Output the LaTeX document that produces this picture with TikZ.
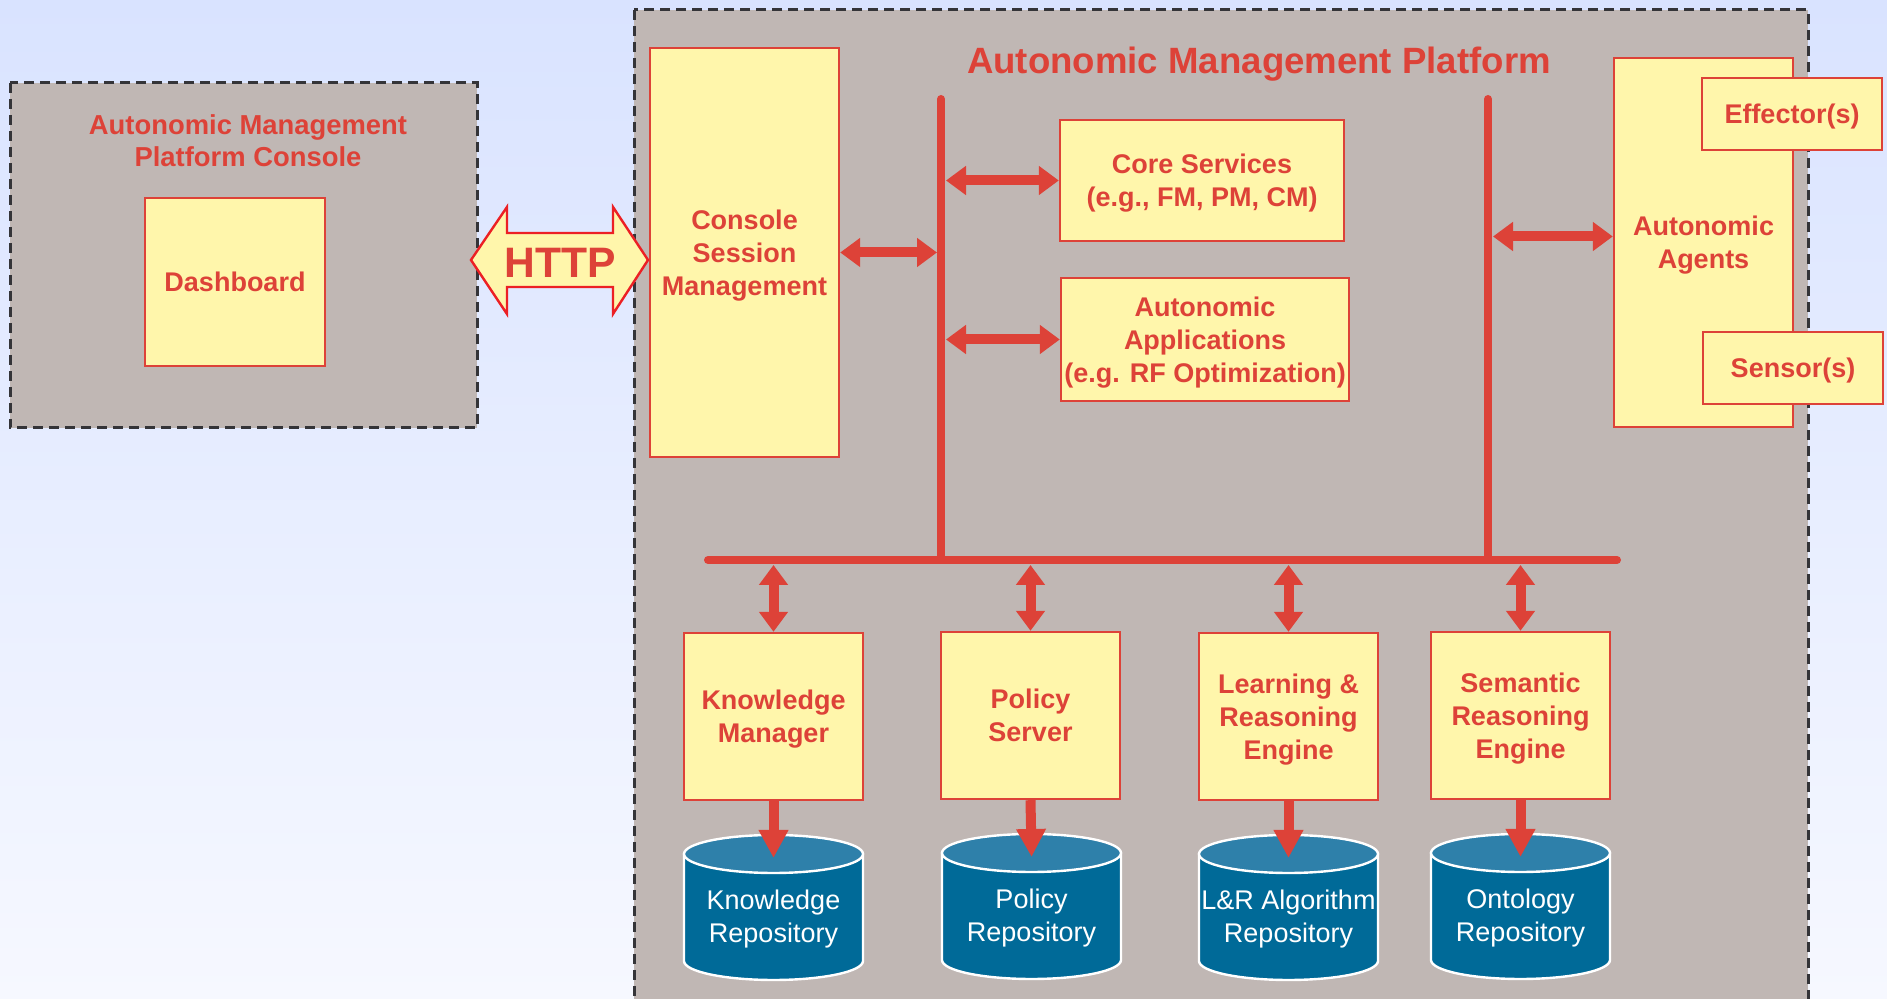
\documentclass[tikz,border=0pt]{standalone}
\usepackage{fontspec}
\setmainfont{Liberation Sans}
\usetikzlibrary{arrows.meta}
\definecolor{bgtop}{RGB}{217,227,255}
\definecolor{bgbot}{RGB}{246,248,255}
\definecolor{platgrey}{RGB}{192,183,180}
\definecolor{boxyellow}{RGB}{255,246,171}
\definecolor{boxred}{RGB}{221,66,56}
\definecolor{httpred}{RGB}{236,32,36}
\definecolor{dashgrey}{RGB}{52,52,56}
\definecolor{cylbody}{RGB}{0,106,152}
\definecolor{cyltop}{RGB}{46,128,170}
\begin{document}
\begin{tikzpicture}[x=0.5pt,y=-0.5pt,
    panel/.style={draw=dashgrey,fill=platgrey,line width=1.5pt,dash pattern=on 5pt off 3pt},
    comp/.style={draw=boxred,fill=boxyellow,line width=1.2pt,text=boxred,align=center,inner sep=0pt,
      text depth=-4.5pt,font=\bfseries\fontsize{13.5}{16.5}\selectfont},
    cylside/.style={draw=white,fill=cylbody,line width=1.2pt},
    cylend/.style={draw=white,fill=cyltop,line width=1.2pt},
    repotext/.style={text=white,align=center,font=\fontsize{13.5}{16.5}\selectfont},
    title/.style={text=boxred,align=center,font=\bfseries\fontsize{13.7}{16}\selectfont},
    bus/.style={draw=boxred,line width=4pt,line cap=round},
    link/.style={draw=boxred,line width=5pt,{Triangle[width=14pt,length=10pt]}-{Triangle[width=14pt,length=10pt]}},
    feed/.style={draw=boxred,line width=5pt,-{Triangle[width=14pt,length=14pt]}}]
  \useasboundingbox (0,0) rectangle (1887,999);
  \clip (0,0) rectangle (1887,999);
  \shade[top color=bgtop,bottom color=bgbot] (0,0) rectangle (1887,999);

  \draw[panel] (10,83) rectangle (477,428);
  \draw[panel] (634,10) rectangle (1808,1030);
  \node[title] (ctitle) at (248,140.5) {Autonomic Management\\Platform Console};
  \node[title,font=\bfseries\fontsize{18.3}{22}\selectfont] (ptitle) at (1259,64) {Autonomic Management Platform};

  \coordinate (b1t) at (941,99);
  \coordinate (b1b) at (941,560);
  \coordinate (b2t) at (1488,99);
  \coordinate (b2b) at (1488,560);
  \coordinate (bl) at (708,560);
  \coordinate (br) at (1617,560);
  \draw[bus] (b1t) -- (b1b);
  \draw[bus] (b2t) -- (b2b);
  \draw[bus] (bl) -- (br);

  \node[comp,minimum width=90pt,minimum height=84pt] (dash) at (235,282) {Dashboard};
  \node[comp,minimum width=94.5pt,minimum height=204.5pt] (csm) at (744.5,252.5) {Console\\Session\\Management};
  \node[comp,minimum width=142pt,minimum height=60.5pt] (core) at (1202,180.5) {Core Services\\(e.g., FM, PM, CM)};
  \node[comp,minimum width=144pt,minimum height=61.5pt] (apps) at (1205,339.5) {Autonomic\\Applications\\(e.g. RF Optimization)};
  \node[comp,minimum width=89.5pt,minimum height=184.5pt] (agents) at (1703.5,242.5) {Autonomic\\Agents};
  \node[comp,minimum width=90pt,minimum height=36pt] (eff) at (1792,114) {Effector(s)};
  \node[comp,minimum width=90pt,minimum height=36pt] (sens) at (1793,368) {Sensor(s)};

  \node[comp,minimum width=89.5pt,minimum height=83.5pt] (km) at (773.5,716.5) {Knowledge\\Manager};
  \node[comp,minimum width=89.5pt,minimum height=83.5pt] (ps) at (1030.5,715.5) {Policy\\Server};
  \node[comp,minimum width=89.5pt,minimum height=83.5pt] (lr) at (1288.5,716.5) {Learning \&\\Reasoning\\Engine};
  \node[comp,minimum width=89.5pt,minimum height=83.5pt] (sr) at (1520.5,715.5) {Semantic\\Reasoning\\Engine};

  \coordinate (kr) at (773.5,854);
  \coordinate (pr) at (1031.5,853);
  \coordinate (ar) at (1288.5,854);
  \coordinate (or) at (1520.5,853);
  \foreach \c in {kr,pr,ar,or}{
    \draw[cylside] ([xshift=-44.75pt]\c) -- ([xshift=-44.75pt,yshift=-53.5pt]\c)
      arc[start angle=180,end angle=0,x radius=89.5,y radius=19] -- ([xshift=44.75pt]\c) -- cycle;
    \draw[cylend] (\c) ellipse[x radius=89.5,y radius=19];
  }
  \node[repotext] (krt) at (773.5,919.5) {Knowledge\\Repository};
  \node[repotext] (prt) at (1031.5,918.5) {Policy\\Repository};
  \node[repotext] (art) at (1288.5,919.5) {L\&R Algorithm\\Repository};
  \node[repotext] (ort) at (1520.5,918.5) {Ontology\\Repository};

  \draw[draw=httpred,fill=boxyellow,line width=1.2pt,line join=miter]
    (471,260) -- (507,207) -- (507,233) -- (613,233) -- (613,207) -- (648,260)
    -- (613,314) -- (613,287) -- (507,287) -- (507,314) -- cycle;
  \node[text=boxred,font=\bfseries\fontsize{21.3}{24}\selectfont] (http) at (560,263) {HTTP};

  \draw[link,shorten >=2pt] (csm.east) -- (csm.east -| b1t);
  \draw[link,shorten <=2.5pt] (b1t |- core.west) -- (core.west);
  \draw[link,shorten <=2.5pt] (b1t |- apps.west) -- (apps.west);
  \draw[link,shorten <=2.5pt] ([yshift=3pt]agents.west -| b2t) -- ([yshift=3pt]agents.west);

  \draw[link,shorten <=2.5pt] (km.north |- bl) -- (km.north);
  \draw[link,shorten <=2.5pt] (ps.north |- bl) -- (ps.north);
  \draw[link,shorten <=2.5pt] (lr.north |- bl) -- (lr.north);
  \draw[link,shorten <=2.5pt] (sr.north |- bl) -- (sr.north);

  \draw[feed,shorten >=-2pt] (km.south) -- (kr);
  \draw[feed,shorten >=-2pt] (ps.south) -- (pr);
  \draw[feed,shorten >=-2pt] (lr.south) -- (ar);
  \draw[feed,shorten >=-2pt] (sr.south) -- (or);
\end{tikzpicture}
\end{document}
